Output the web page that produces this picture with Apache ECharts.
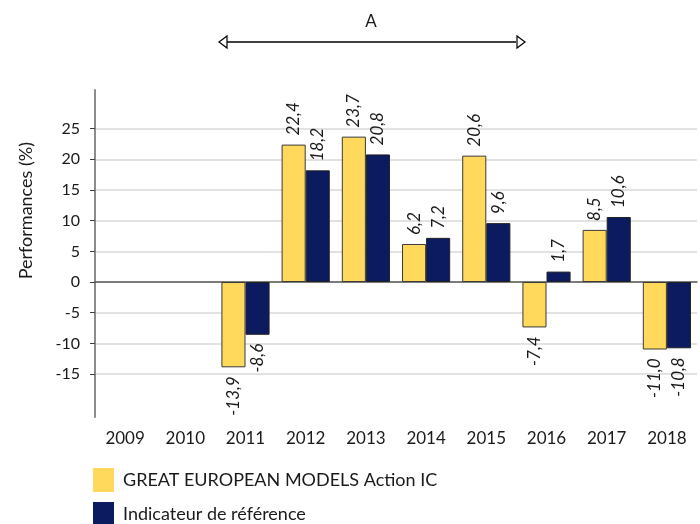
<!DOCTYPE html>
<html>
<head>
<meta charset="utf-8">
<script src="https://cdn.jsdelivr.net/npm/echarts@6/dist/echarts.min.js"></script>
<style>html,body{margin:0;padding:0;background:#fff}#c{width:700px;height:524px}</style>
</head>
<body>
<div id="c"></div>
<script>
const categories = ['2009','2010','2011','2012','2013','2014','2015','2016','2017','2018'];
const fundName = 'GREAT EUROPEAN MODELS Action IC';
const refName = 'Indicateur de référence';
const fundValues = [null, null, -13.9, 22.4, 23.7, 6.2, 20.6, -7.4, 8.5, -11.0];
const refValues  = [null, null, -8.6, 18.2, 20.8, 7.2, 9.6, 1.7, 10.6, -10.8];
const yTicks = [-15, -10, -5, 0, 5, 10, 15, 20, 25];
const yTitle = 'Performances (%)';
const periodLabel = 'A';

const FONT = 'Lato';
function fmt(v){ return v.toFixed(1).replace('.', ','); }
function toData(arr){
  return arr.map(v => {
    if (v === null) return null;
    return {
      value: v,
      label: v < 0
        ? {position: 'bottom', align: 'right'}
        : {position: 'top', align: 'left'}
    };
  });
}
const labelBase = {
  show: true, rotate: 90, verticalAlign: 'middle', distance: 9,
  fontFamily: FONT, fontStyle: 'italic', fontSize: 17, color: '#1a1a1a',
  formatter: p => fmt(p.value)
};
function legendFor(name, top){
  return {
    orient: 'vertical', left: 88, top: top, itemWidth: 21, itemHeight: 24,
    icon: 'rect', data: [name], selectedMode: false,
    itemStyle: {borderWidth: 0},
    textStyle: {fontFamily: FONT, fontSize: 18, color: '#1a1a1a', padding: [0,0,0,4]}
  };
}

const chart = echarts.init(document.getElementById('c'));
chart.setOption({
  animation: false,
  grid: {left: 95, right: 3, top: 90, height: 327},
  legend: [legendFor(fundName, 463), legendFor(refName, 497)],
  xAxis: [{
    type: 'category', data: categories, position: 'bottom',
    axisLine: {show: false, onZero: false}, axisTick: {show: false},
    axisLabel: {fontFamily: FONT, fontSize: 17, color: '#1a1a1a', margin: 13}
  }, {
    type: 'category', data: categories, position: 'bottom',
    axisLine: {show: true, onZero: true, lineStyle: {color: '#595959', width: 1.5}},
    axisTick: {show: false}, axisLabel: {show: false}
  }],
  yAxis: {
    type: 'value', min: -22, max: 31.3,
    axisLine: {show: true, lineStyle: {color: '#8c8c8c', width: 2}},
    axisTick: {show: true, length: 5, customValues: yTicks, lineStyle: {color: '#404040'}},
    axisLabel: {customValues: yTicks, fontFamily: FONT, fontSize: 16, color: '#1a1a1a', margin: 15},
    splitLine: {show: true, lineStyle: {color: '#d9d9d9', width: 1.5}}
  },
  series: [{
    name: fundName, type: 'bar', data: toData(fundValues),
    barGap: '0%', barCategoryGap: '20%',
    itemStyle: {color: '#FFD95C', borderColor: '#3a3a3a', borderWidth: 1},
    label: labelBase, z: 3
  }, {
    name: refName, type: 'bar', data: toData(refValues),
    itemStyle: {color: '#0C1A60', borderColor: '#222', borderWidth: 1},
    label: labelBase, z: 3
  }],
  graphic: [
    {type: 'text', left: 17, top: 142, rotation: Math.PI/2,
     style: {text: yTitle, font: '18px ' + FONT, fill: '#1a1a1a'}},
    {type: 'text', x: 371, y: 22, style: {text: periodLabel, font: '17px ' + FONT, fill: '#1a1a1a', align: 'center', verticalAlign: 'middle'}},
    {type: 'line', shape: {x1: 227, y1: 42, x2: 516, y2: 42}, style: {stroke: '#000', lineWidth: 1.3}},
    {type: 'polygon', shape: {points: [[219,42],[227,36],[227,48]]}, style: {fill: '#fff', stroke: '#000', lineWidth: 1.2}},
    {type: 'polygon', shape: {points: [[525,42],[517,36],[517,48]]}, style: {fill: '#fff', stroke: '#000', lineWidth: 1.2}}
  ]
});
</script>
</body>
</html>
